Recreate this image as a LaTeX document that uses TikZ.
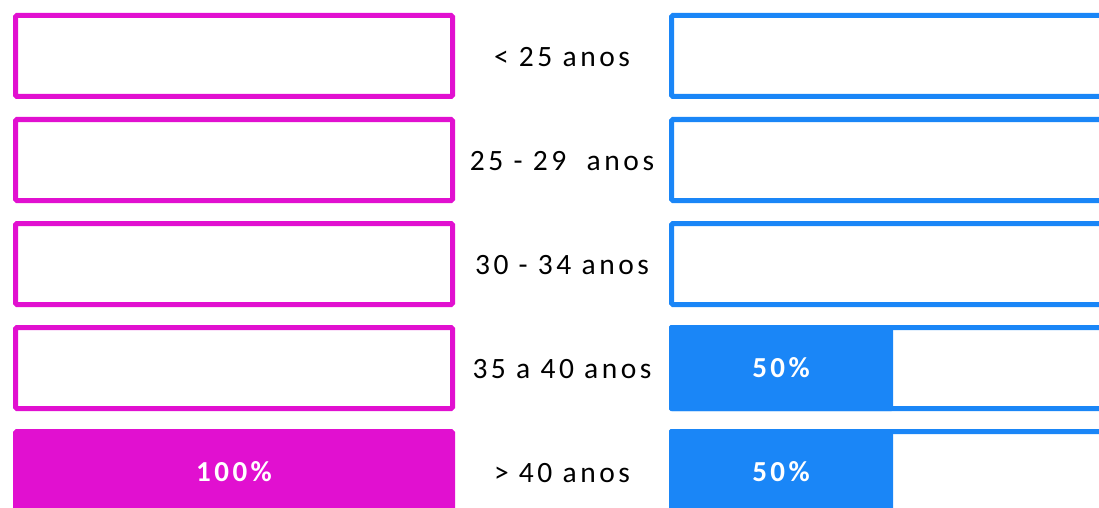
\documentclass[tikz,border=0pt]{standalone}
\usepackage{fontspec}
\setmainfont{Carlito}
\newfontfamily\agefont{Carlito}[LetterSpace=12]
\usepackage{tikz}
\usetikzlibrary{positioning}

\definecolor{fem}{RGB}{225,16,208}
\definecolor{masc}{RGB}{26,134,247}

\tikzset{
  bar/.style={draw, line width=5pt, rounded corners=1.5pt, minimum width=437pt, minimum height=81pt, inner sep=0pt},
  fembar/.style={bar, draw=fem},
  mascbar/.style={bar, draw=masc},
  half/.style={fill=masc, rounded corners=1.5pt, minimum width=224pt, minimum height=86pt, inner sep=0pt},
  pct/.style={text=white, font=\agefont\bfseries\fontsize{29}{31}\selectfont},
  age/.style={font=\agefont\fontsize{29.5}{31}\selectfont}
}

\begin{document}
\begin{tikzpicture}[x=1pt,y=-1pt]

\useasboundingbox (0,0) rectangle (1099,508);
\clip (0,0) rectangle (1099,508);

\node [fembar] (f1) at (234,56) {};
\node [fembar] (f2) at (234,160) {};
\node [fembar] (f3) at (234,264) {};
\node [fembar] (f4) at (234,368) {};
\node [fembar, fill=fem] (f5) at (234,472) {};
\node [pct] (p5) at (f5.center) {100\%};

\node [mascbar] (m1) at (890,56) {};
\node [mascbar] (m2) at (890,160) {};
\node [mascbar] (m3) at (890,264) {};
\node [mascbar] (m4) at (890,368) {};
\node [mascbar] (m5) at (890,472) {};
\node [half] (h4) at (781,368) {};
\node [half] (h5) at (781,472) {};
\node [pct] (q4) at (h4.center) {50\%};
\node [pct] (q5) at (h5.center) {50\%};

\node [age] (a1) at (562,57) {< 25 anos};
\node [age] (a2) at (562,161) {25 - 29\ \ anos};
\node [age] (a3) at (562,265) {30 - 34 anos};
\node [age] (a4) at (562,369) {35 a 40 anos};
\node [age] (a5) at (562,473) {> 40 anos};

\end{tikzpicture}
\end{document}
